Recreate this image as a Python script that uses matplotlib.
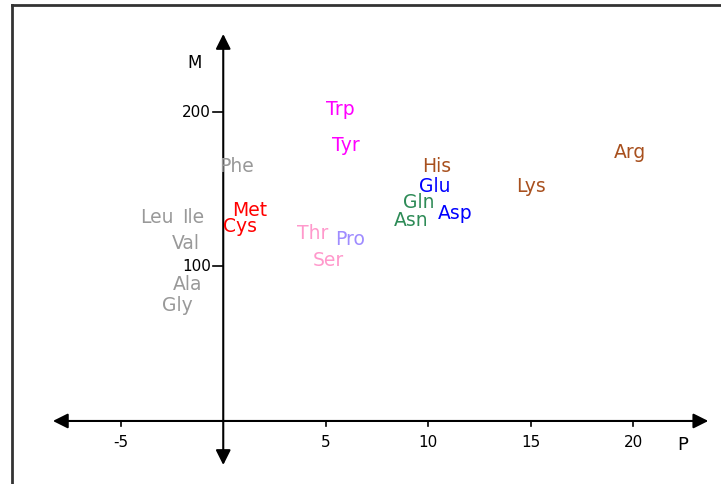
import matplotlib
matplotlib.use('Agg')
import matplotlib.pyplot as plt
from matplotlib.lines import Line2D

# aminoácidos: P (eje horizontal) y M (eje vertical)
nombres = ['Trp', 'Tyr', 'Phe', 'Met', 'Cys', 'Leu', 'Ile', 'Val', 'Ala', 'Gly',
           'Thr', 'Pro', 'Ser', 'His', 'Glu', 'Gln', 'Asn', 'Asp', 'Lys', 'Arg']
P = [5.69, 5.96, 0.67, 1.28, 0.81, -3.25, -1.45, -1.82, -1.72, -2.26,
     4.35, 6.18, 5.13, 10.42, 10.3, 9.52, 9.18, 11.3, 14.99, 19.86]
M = [198, 175, 161, 133, 122, 128, 128, 111, 85, 71,
     118, 114, 100, 161, 148, 138, 126, 131, 148, 170]
colores = ['#ff00ff', '#ff00ff', '#999999', '#ff0000', '#ff0000', '#999999', '#999999',
           '#999999', '#999999', '#999999', '#ff99cc', '#9f8cff', '#ff99cc', '#a8501e',
           '#0000ff', '#2e8b57', '#2e8b57', '#0000ff', '#a8501e', '#a8501e']

ticks_P = [-5, 5, 10, 15, 20]
ticks_M = [100, 200]

fig = plt.figure(figsize=(7.21, 4.84), dpi=100)
ax = fig.add_axes([0, 0, 1, 1])
ax.set_xlim(-10.89, 24.28)
ax.set_ylim(-40.8, 272.5)
ax.axis('off')

# ejes con flechas
flecha = dict(arrowstyle='<|-|>,head_length=0.6,head_width=0.3', color='black',
              lw=1.5, mutation_scale=15, shrinkA=0, shrinkB=0)
ax.annotate('', xy=(23.66, 0), xytext=(-8.31, 0), arrowprops=flecha)
ax.annotate('', xy=(0, 250.5), xytext=(0, -28.5), arrowprops=flecha)

# marcas de los ejes
for t in ticks_P:
    ax.plot([t, t], [0, -3.2], color='black', lw=1.2)
    ax.text(t, -14, str(t), ha='center', va='center', fontsize=11)
for t in ticks_M:
    ax.plot([-0.5, 0], [t, t], color='black', lw=1.2)
    ax.text(-0.6, t, str(t), ha='right', va='center', fontsize=11)

ax.text(22.4, -15.5, 'P', ha='center', va='center', fontsize=13)
ax.text(-1.4, 232, 'M', ha='center', va='center', fontsize=12)

# etiquetas de los aminoácidos
for n, x, y, c in zip(nombres, P, M, colores):
    ax.text(x, y, n, color=c, ha='center', va='baseline', fontsize=13.5)

# marco
fig.add_artist(Line2D([11.5 / 721, 11.5 / 721], [0, 1 - 4.5 / 484], transform=fig.transFigure,
                      color='#333333', lw=2))
fig.add_artist(Line2D([11.5 / 721, 1], [1 - 4.5 / 484, 1 - 4.5 / 484], transform=fig.transFigure,
                      color='#333333', lw=2))

fig.savefig('out.png', dpi=100)
